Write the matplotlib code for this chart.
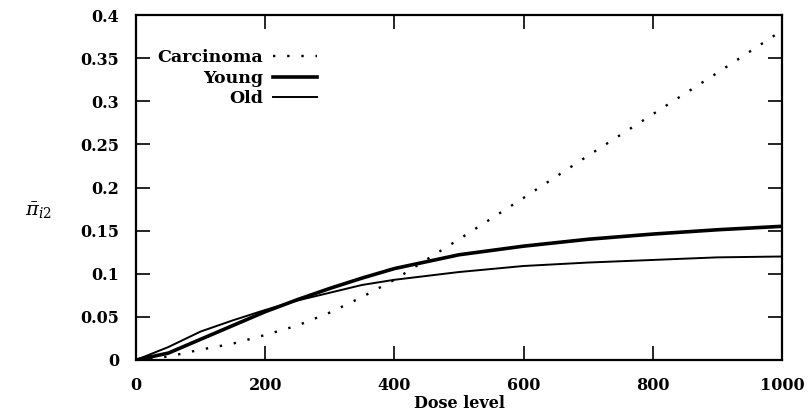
import matplotlib.pyplot as plt
import numpy as np

plt.rcParams['font.family'] = ['DejaVu Serif']
plt.rcParams['mathtext.fontset'] = 'dejavuserif'

# values
dose = [0, 50, 100, 150, 200, 250, 300, 350, 400, 500, 600, 700, 800, 900, 1000]
young = [0, 0.008, 0.024, 0.040, 0.056, 0.070, 0.083, 0.095, 0.106, 0.122, 0.132, 0.140, 0.146, 0.151, 0.155]
old = [0, 0.015, 0.033, 0.046, 0.058, 0.069, 0.078, 0.087, 0.093, 0.102, 0.109, 0.113, 0.116, 0.119, 0.120]
carcinoma = [0, 0.004, 0.012, 0.019, 0.029, 0.040, 0.055, 0.073, 0.093, 0.140, 0.188, 0.237, 0.285, 0.333, 0.382]

xticks = [0, 200, 400, 600, 800, 1000]
yticks = [0, 0.05, 0.1, 0.15, 0.2, 0.25, 0.3, 0.35, 0.4]
yticklabels = ['0', '0.05', '0.1', '0.15', '0.2', '0.25', '0.3', '0.35', '0.4']

fig = plt.figure(figsize=(8.08, 4.2), dpi=100)
ax = fig.add_axes([136/808, 1 - 360/420, 646/808, 345/420])

ax.plot(dose, carcinoma, color='black', linestyle=(0, (1, 5)), linewidth=1.7, label='Carcinoma')
ax.plot(dose, young, color='black', linewidth=2.6, label='Young')
ax.plot(dose, old, color='black', linewidth=1.4, label='Old')

ax.set_xlim(0, 1000)
ax.set_ylim(0, 0.4)
ax.set_xticks(xticks)
ax.set_yticks(yticks)
ax.set_yticklabels(yticklabels)
ax.tick_params(direction='in', length=10, width=1.2, top=True, right=True, labelsize=11.5)
ax.tick_params(axis='y', pad=12)
ax.tick_params(axis='x', pad=12)
for lbl in ax.get_xticklabels() + ax.get_yticklabels():
    lbl.set_fontweight('bold')
for s in ax.spines.values():
    s.set_linewidth(1.6)

ax.set_xlabel('Dose level', fontsize=11.5, fontweight='bold', labelpad=1)
fig.text(38/808, 1 - 211/420, r'$\bar{\pi}_{i2}$', fontsize=14, ha='center', va='center')

leg = ax.legend(loc='upper right', bbox_to_anchor=(0.28, 0.9), frameon=False,
                markerfirst=False, handlelength=2.5, handletextpad=0.6,
                labelspacing=0.2, borderaxespad=0, borderpad=0,
                prop={'size': 12.5, 'weight': 'bold'})

fig.savefig('out.png', dpi=100)
